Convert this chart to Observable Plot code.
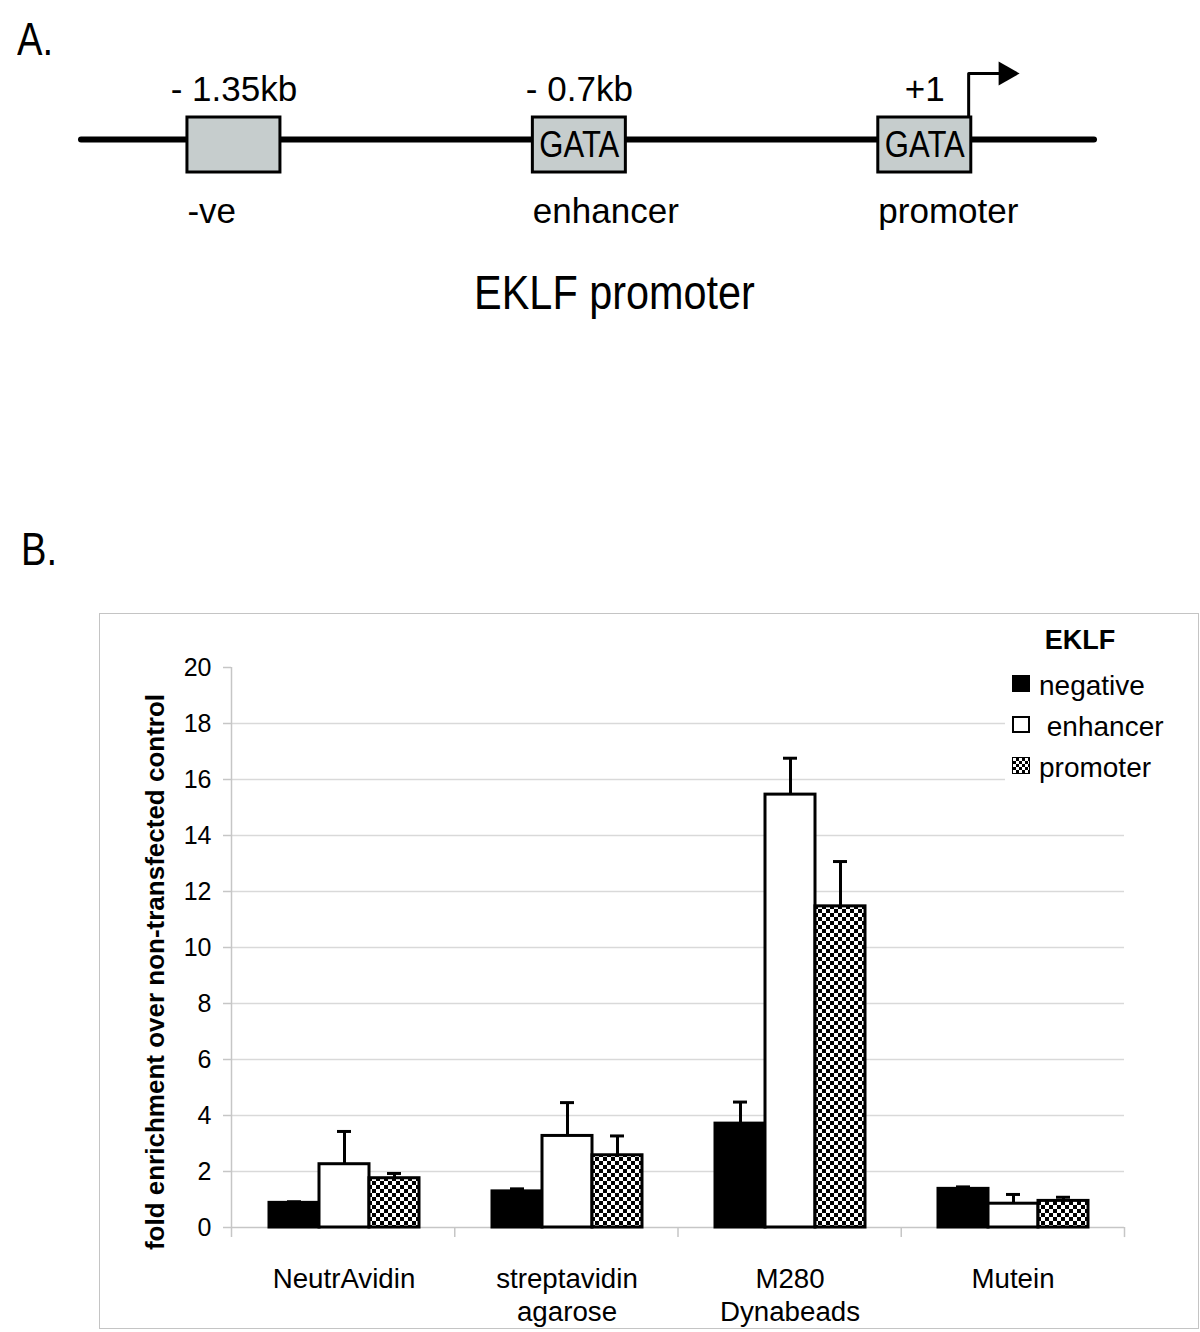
<!DOCTYPE html>
<html><head><meta charset="utf-8">
<script src="https://cdn.jsdelivr.net/npm/d3@7"></script>
<script src="https://cdn.jsdelivr.net/npm/@observablehq/plot@0.6"></script>
<style>
body{margin:0;background:#fff;}
#root{position:relative;width:1200px;height:1332px;overflow:hidden;font-family:"Liberation Sans",Arial,sans-serif;color:#000;}
.abs{position:absolute;line-height:1;white-space:pre;}
.plotsvg{position:absolute;display:block;}
</style></head><body><div id="root"></div>
<script>
// ---------- Panel A data (schematic) ----------
const siteNames = ["-ve", "enhancer", "promoter"];
const siteTopLabels = ["- 1.35kb", "- 0.7kb", "+1"];
const siteMotifs = ["", "GATA", "GATA"];
const siteOrder = [0, 1, 2];          // schematic slots, equally spaced
const lineExtent = [-0.45, 2.5];      // extent of the DNA line in slot units
const lineLevel = 0.2;
const boxHalf = 0.1346;
const tssArrowX = [2.127, 2.127, 2.22];
const tssArrowY = [0.2, 2.6, 2.6];
const arrowHeadX = [2.234];
const arrowHeadY = [2.6];

// ---------- Panel B data ----------
const categories = ["NeutrAvidin", "streptavidin agarose", "M280 Dynabeads", "Mutein"];
const categoryLabels = ["NeutrAvidin", "streptavidin\nagarose", "M280\nDynabeads", "Mutein"];
const series = ["negative", "enhancer", "promoter"];
const negativeValues = [0.88, 1.29, 3.71, 1.38];
const negativeErrors = [0.04, 0.09, 0.77, 0.07];
const enhancerValues = [2.26, 3.27, 15.46, 0.85];
const enhancerErrors = [1.17, 1.19, 1.30, 0.33];
const promoterValues = [1.76, 2.58, 11.47, 0.95];
const promoterErrors = [0.17, 0.69, 1.60, 0.13];
const yTicks = [0, 2, 4, 6, 8, 10, 12, 14, 16, 18, 20];
const yTitle = "fold enrichment over non-transfected control";
const legendTitle = "EKLF";
const legendLabels = ["negative", " enhancer", "promoter"];

const root = document.getElementById("root");
const baseStyle = {background: "transparent", fontFamily: "'Liberation Sans', Arial, sans-serif", color: "#000", overflow: "visible"};

// ---------- Panel A ----------
const sites = siteNames.map((name, i) => ({name, pos: siteOrder[i], top: siteTopLabels[i], motif: siteMotifs[i]}));
const arrowPath = tssArrowX.map((x, i) => ({x, y: tssArrowY[i]}));
const arrowHead = arrowHeadX.map((x, i) => ({x, y: arrowHeadY[i]}));
const plotA = Plot.plot({
  width: 1200, height: 330,
  marginLeft: 78, marginRight: 103, marginTop: 0, marginBottom: 0,
  x: {domain: lineExtent, axis: null},
  y: {domain: [-1, 1], range: [172, 117], axis: null},
  style: baseStyle,
  marks: [
    Plot.ruleY([lineLevel], {stroke: "#000", strokeWidth: 6, strokeLinecap: "round", insetLeft: 3, insetRight: 3}),
    Plot.line(arrowPath, {x: "x", y: "y", stroke: "#000", strokeWidth: 3}),
    Plot.dot(arrowHead, {x: "x", y: "y", symbol: "triangle", r: 9, rotate: 90, fill: "#000"}),
    Plot.rect(sites, {x1: d => d.pos - boxHalf, x2: d => d.pos + boxHalf, y1: -1, y2: 1, fill: "#c6cdcd", stroke: "#000", strokeWidth: 3}),
    Plot.text(sites, {x: "pos", y: 1, text: "top", dy: -17, lineAnchor: "bottom", fontSize: 35, fill: "#000"}),
    Plot.text(sites.filter(d => d.motif), {x: "pos", y: 0, text: "motif", lineAnchor: "middle", fontSize: 37, fill: "#000"}),
    Plot.text(sites, {x: d => d.pos - boxHalf, y: -1, text: "name", textAnchor: "start", dy: 50, lineAnchor: "bottom", fontSize: 35, fill: "#000"})
  ]
});
// condense the motif lettering horizontally, as in the original figure
d3.select(plotA).selectAll("text").filter(function() { return siteMotifs.includes(this.textContent) && this.textContent; })
  .attr("transform", function() { return (this.getAttribute("transform") || "") + " scale(0.84,1)"; });
plotA.classList.add("plotsvg");
plotA.style.left = "0px"; plotA.style.top = "0px";
root.appendChild(plotA);

function addDiv(text, css) {
  const d = document.createElement("div");
  d.className = "abs";
  d.textContent = text;
  Object.assign(d.style, css);
  root.appendChild(d);
  return d;
}
addDiv("A.", {left: "17px", top: "16px", fontSize: "46px", transform: "scaleX(0.83)", transformOrigin: "left top"});
addDiv("EKLF promoter", {left: "0px", width: "1229px", textAlign: "center", top: "268px", fontSize: "49px", transform: "scaleX(0.845)", transformOrigin: "614.5px 0"});
addDiv("B.", {left: "21px", top: "526px", fontSize: "46px", transform: "scaleX(0.83)", transformOrigin: "left top"});

// ---------- Panel B ----------
const valuesBySeries = [negativeValues, enhancerValues, promoterValues];
const errorsBySeries = [negativeErrors, enhancerErrors, promoterErrors];
const data = [];
categories.forEach((c, i) => series.forEach((s, j) => {
  data.push({category: c, series: s, value: valuesBySeries[j][i], upper: valuesBySeries[j][i] + errorsBySeries[j][i]});
}));

const frameB = document.createElement("div");
Object.assign(frameB.style, {position: "absolute", left: "99px", top: "613px", width: "1100px", height: "716px", border: "1.5px solid #c4c4c4", boxSizing: "border-box"});
root.appendChild(frameB);

const dimsB = {width: 1100, height: 716, marginLeft: 132, marginRight: 75, marginTop: 54, marginBottom: 102};
const boundaries = d3.range(categories.length + 1);
const plotGrid = Plot.plot({
  ...dimsB,
  x: {domain: [0, categories.length], axis: null},
  y: {domain: [0, 20]},
  style: baseStyle,
  marks: [
    Plot.ruleY(yTicks.filter(t => t > 0 && t < 20), {stroke: "#d9d9d9", strokeWidth: 1.5}),
    Plot.ruleY([0], {stroke: "#c6c6c6", strokeWidth: 1.5}),
    Plot.ruleX(boundaries, {x: d => d, y1: d => d === 0 ? 20 : 0, y2: -0.36, stroke: "#c6c6c6", strokeWidth: 1.5}),
    Plot.axisY({ticks: yTicks, tickSize: 8, tickPadding: 12, fontSize: 25, stroke: "#c6c6c6", strokeWidth: 1.5, label: null, tickFormat: d => String(d)})
  ]
});
plotGrid.classList.add("plotsvg");
plotGrid.style.left = "99px"; plotGrid.style.top = "613px";
root.appendChild(plotGrid);

const checkerDefs = () => {
  const ns = "http://www.w3.org/2000/svg";
  const defs = document.createElementNS(ns, "defs");
  const p = document.createElementNS(ns, "pattern");
  p.setAttribute("id", "checker");
  p.setAttribute("patternUnits", "userSpaceOnUse");
  p.setAttribute("width", "8"); p.setAttribute("height", "8");
  [[0, 0, 8, 8, "#fff"], [0, 0, 4, 4, "#000"], [4, 4, 4, 4, "#000"]].forEach(([x, y, w, h, f]) => {
    const r = document.createElementNS(ns, "rect");
    r.setAttribute("x", x); r.setAttribute("y", y); r.setAttribute("width", w); r.setAttribute("height", h); r.setAttribute("fill", f);
    p.appendChild(r);
  });
  defs.appendChild(p);
  return defs;
};
const seriesFill = {negative: "#000", enhancer: "#fff", promoter: "url(#checker)"};

const plotBars = Plot.plot({
  ...dimsB,
  fx: {domain: categories, padding: 0},
  x: {domain: series, paddingInner: 0, paddingOuter: 0.71, axis: null},
  y: {domain: [0, 20], axis: null},
  style: baseStyle,
  marks: [
    checkerDefs,
    ...series.map(s => Plot.barY(data.filter(d => d.series === s), {fx: "category", x: "series", y1: 0, y2: "value", fill: seriesFill[s], stroke: "#000", strokeWidth: 3})),
    Plot.ruleX(data, {fx: "category", x: "series", y1: "value", y2: "upper", stroke: "#000", strokeWidth: 3}),
    Plot.tickY(data, {fx: "category", x: "series", y: "upper", stroke: "#000", strokeWidth: 3, insetLeft: 18, insetRight: 18}),
    Plot.axisFx({anchor: "bottom", tickSize: 0, tickPadding: 37, fontSize: 27.7, lineHeight: 1.2, label: null, fill: "#000",
      tickFormat: d => categoryLabels[categories.indexOf(d)]})
  ]
});
plotBars.classList.add("plotsvg");
plotBars.style.left = "99px"; plotBars.style.top = "613px";
root.appendChild(plotBars);

// y title
addDiv(yTitle, {left: "155px", top: "972px", fontSize: "26px", fontWeight: "bold", transform: "translate(-50%,-50%) rotate(-90deg)"});

// legend
const lg = document.createElement("div");
Object.assign(lg.style, {position: "absolute", left: "1005px", top: "618px", width: "190px", height: "172px", background: "#fff"});
root.appendChild(lg);
addDiv(legendTitle, {left: "1005px", width: "150px", textAlign: "center", top: "627px", fontSize: "27px", fontWeight: "bold"});
const swatchStyles = [
  {background: "#000"},
  {background: "#fff", border: "2px solid #000"},
  {background: "repeating-conic-gradient(#000 0% 25%, #fff 0% 50%) 0 0 / 6px 6px", border: "1.5px solid #000"}
];
const swatchTops = [675, 716, 757];
legendLabels.forEach((lab, i) => {
  const sw = document.createElement("div");
  Object.assign(sw.style, {position: "absolute", left: "1012px", top: swatchTops[i] + "px", width: "18px", height: "17px", boxSizing: "border-box"}, swatchStyles[i]);
  root.appendChild(sw);
  addDiv(lab, {left: "1039px", top: (swatchTops[i] - 2.7) + "px", fontSize: "28px"});
});
</script></body></html>
